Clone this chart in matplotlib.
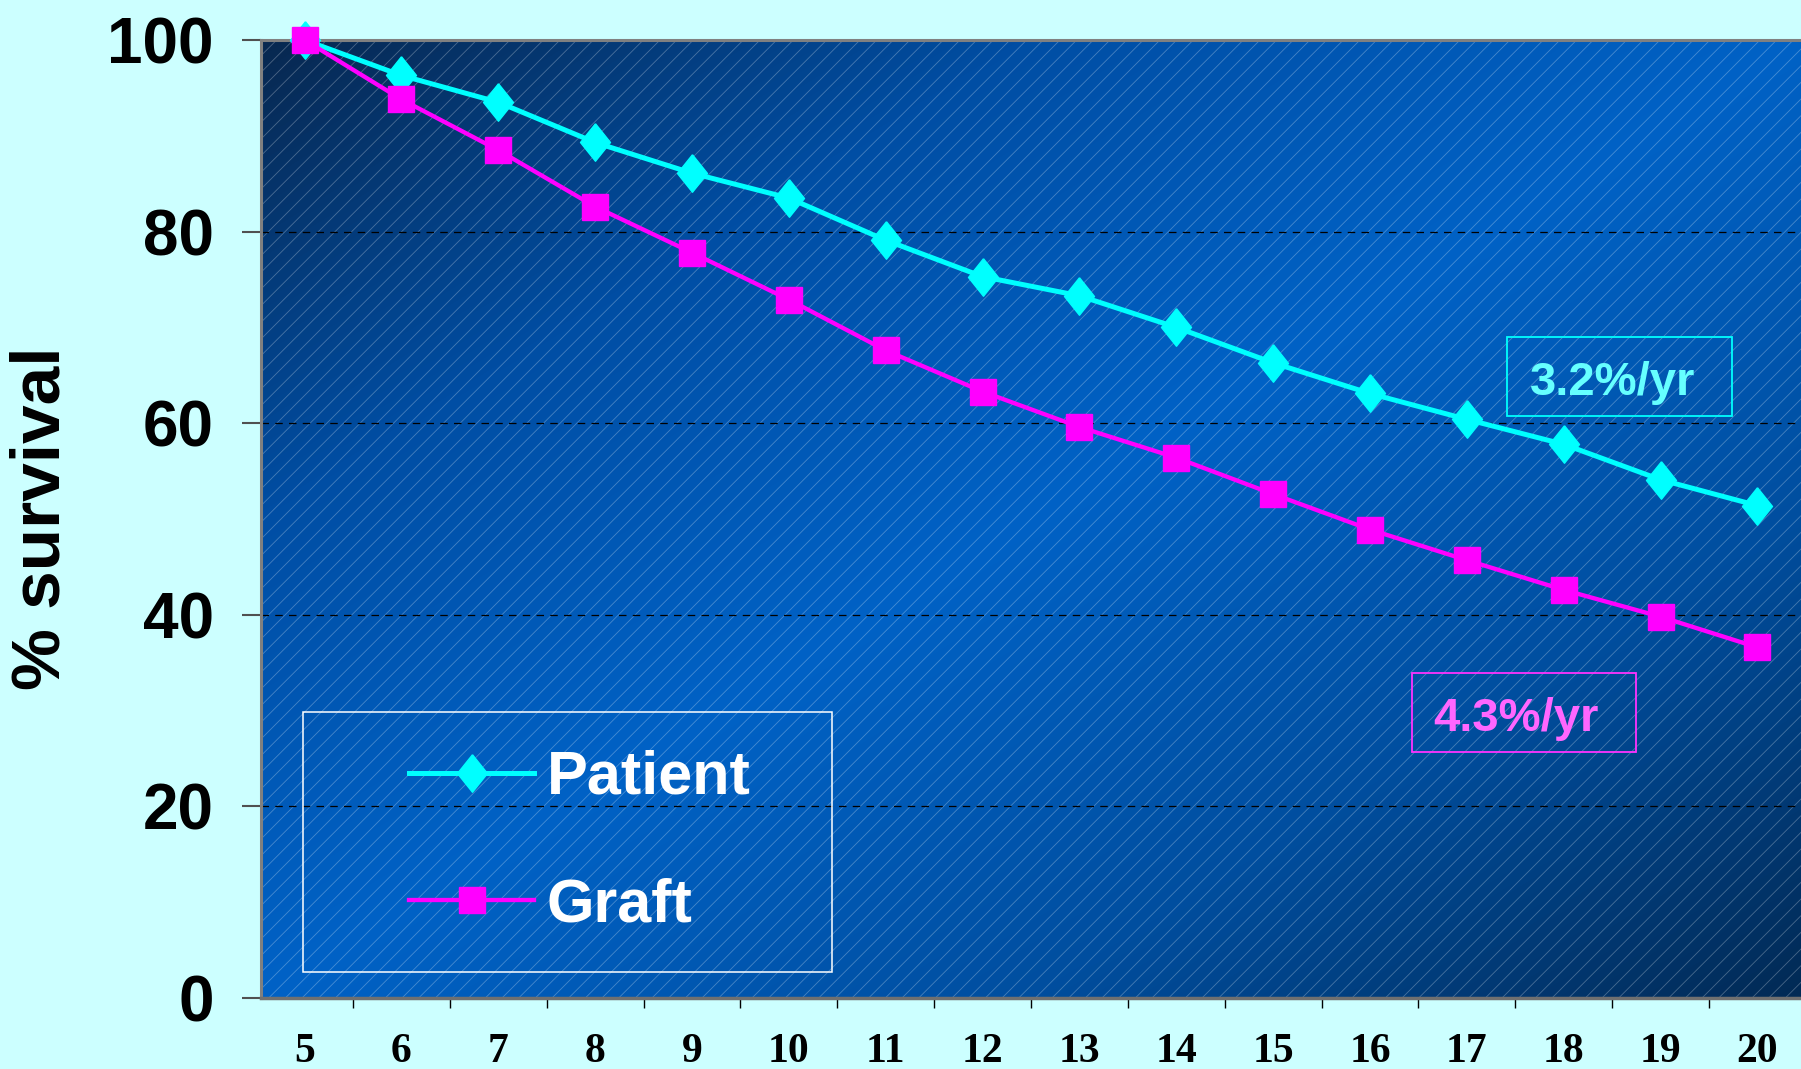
import matplotlib
matplotlib.use('Agg')
import matplotlib.pyplot as plt
import numpy as np
from matplotlib.patches import Rectangle
from matplotlib.colors import LinearSegmentedColormap

# data ----------------------------------------------------------------------
years = list(range(5, 21))
patient = [100, 96.3, 93.5, 89.3, 86.1, 83.5, 79.1, 75.3, 73.3, 70.0,
           66.3, 63.1, 60.4, 57.8, 54.1, 51.4]
graft = [100, 93.8, 88.5, 82.6, 77.8, 72.9, 67.6, 63.3, 59.6, 56.4,
         52.6, 48.9, 45.7, 42.6, 39.8, 36.6]
yticks = [0, 20, 40, 60, 80, 100]
rate_patient = '3.2%/yr'
rate_graft = '4.3%/yr'

sans = ['Liberation Sans', 'DejaVu Sans']
serif = ['Liberation Serif', 'DejaVu Serif']
plt.rcParams['hatch.linewidth'] = 0.6

fig = plt.figure(figsize=(18.01, 10.69), dpi=100, facecolor='#CCFFFF')
ax = fig.add_axes([0.1449, 0.0664, 0.8551, 0.8962])

# diagonal blue gradient + fine hatch (slide background of plot area)
xx, yy = np.meshgrid(np.linspace(0, 1, 400), np.linspace(1, 0, 250))
t = (xx - yy + 1) / 2
cmap = LinearSegmentedColormap.from_list('bg', ['#082850', '#004EA4', '#0062C6', '#004E9F', '#022A55'])
ax.imshow(t, cmap=cmap, extent=(0, 1, 0, 1), transform=ax.transAxes,
          aspect='auto', zorder=0, interpolation='bilinear')
ax.add_patch(Rectangle((0, 0), 1, 1, transform=ax.transAxes, facecolor='none',
                       edgecolor=(1, 1, 1, 0.28), hatch='//', lw=0, zorder=0.5))

diamond = [(0, 1), (0.8, 0), (0, -1), (-0.8, 0), (0, 1)]
ax.plot(years, patient, color='#00FFFF', lw=3.6, marker=diamond, ms=27,
        label='Patient', clip_on=False, zorder=4)
ax.plot(years, graft, color='#FF00FF', lw=3.1, marker='s', ms=19,
        label='Graft', clip_on=False, zorder=5)

ax.set_xlim(4.55, 20.45)
ax.set_ylim(0, 100)
ax.set_yticks(yticks)
ax.set_yticklabels([str(v) for v in yticks], family=sans, fontweight='bold', fontsize=46)
ax.set_xticks(years)
ax.set_xticklabels([str(v) for v in years], family=serif, fontweight='bold', fontsize=30)
ax.set_xticks([y + 0.5 for y in years[:-1]], minor=True)
ax.tick_params(axis='x', which='major', length=0, pad=25)
ax.tick_params(axis='x', which='minor', length=7, width=1, color='black')
ax.tick_params(axis='y', length=14, width=1.5, color='#505050', pad=20)
ax.yaxis.grid(True, ls=(0, (6, 5)), color='black', lw=0.9)

for side in ['top', 'left']:
    ax.spines[side].set_color('#808080')
    ax.spines[side].set_linewidth(2.2)
ax.spines['bottom'].set_color('#707070')
ax.spines['bottom'].set_linewidth(2.5)
ax.spines['right'].set_visible(False)

ax.set_ylabel('% survival', family=sans, fontweight='bold', fontsize=50, va='center')
ax.yaxis.set_label_coords(-0.1422, 0.501)

# legend with its own white frame
leg = ax.legend(loc='center left', bbox_to_anchor=(0.2271, 0.2123),
                bbox_transform=fig.transFigure, frameon=False, borderpad=0,
                borderaxespad=0, handlelength=2.05, handletextpad=0.2,
                labelspacing=1.15, prop={'family': sans, 'weight': 'bold', 'size': 44})
for txt in leg.get_texts():
    txt.set_color('white')
fig.add_artist(Rectangle((0.1682, 0.0907), 0.2937, 0.2432, transform=fig.transFigure,
                         facecolor='none', edgecolor='white', lw=1.1))

# rate boxes
ax.add_patch(Rectangle((0.8091, 0.6075), 0.1461, 0.0825, transform=ax.transAxes,
                       facecolor='none', edgecolor='#00FFFF', lw=1.3, zorder=6))
ax.text(0.824, 0.6294, rate_patient, transform=ax.transAxes, color='#66FFFF',
        family=sans, fontweight='bold', fontsize=34, va='baseline', zorder=6)
ax.add_patch(Rectangle((0.7474, 0.2568), 0.1455, 0.0824, transform=ax.transAxes,
                       facecolor='none', edgecolor='#FF33FF', lw=1.3, zorder=6))
ax.text(0.761, 0.279, rate_graft, transform=ax.transAxes, color='#FF66FF',
        family=sans, fontweight='bold', fontsize=34, va='baseline', zorder=6)

fig.savefig('out.png', dpi=100, facecolor=fig.get_facecolor())
